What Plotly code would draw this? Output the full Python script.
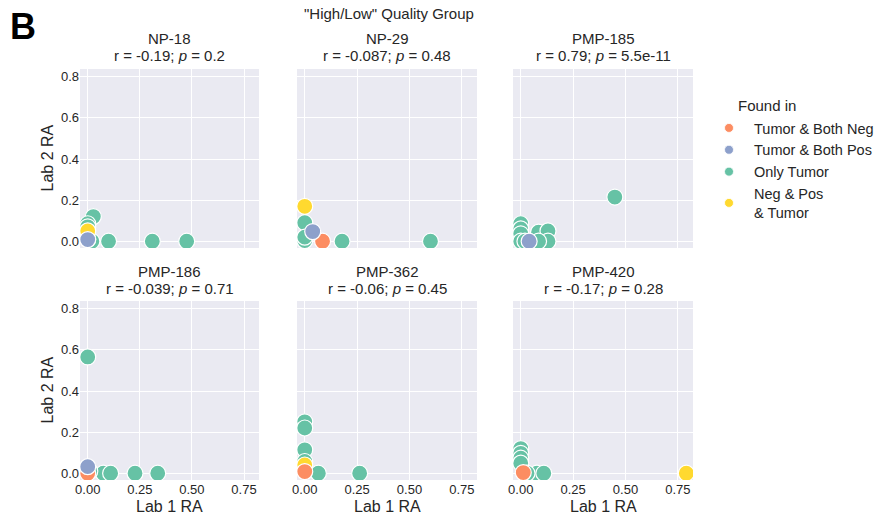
import plotly.graph_objects as go

# ---------------- data ----------------
panel_names = ["NP-18", "NP-29", "PMP-185", "PMP-186", "PMP-362", "PMP-420"]
panel_stats = [
    "r = -0.19; <i>p</i> = 0.2",
    "r = -0.087; <i>p</i> = 0.48",
    "r = 0.79; <i>p</i> = 5.5e-11",
    "r = -0.039; <i>p</i> = 0.71",
    "r = -0.06; <i>p</i> = 0.45",
    "r = -0.17; <i>p</i> = 0.28",
]

# Only Tumor (per panel)
only_tumor_x = [
    [0.027, 0.0, 0.0, 0.02, 0.0, 0.10, 0.31, 0.475],
    [0.0, 0.0, 0.0, 0.178, 0.60],
    [0.449, 0.0, 0.0, 0.0, 0.0, 0.02, 0.085, 0.13, 0.13, 0.085],
    [0.0, 0.075, 0.11, 0.227, 0.336, 0.01],
    [0.0, 0.0, 0.0, 0.0, 0.065, 0.262],
    [0.0, 0.0, 0.0, 0.0, 0.077, 0.11, 0.03],
]
only_tumor_y = [
    [0.12, 0.085, 0.07, 0.0, 0.01, 0.0, 0.0, 0.0],
    [0.09, 0.003, 0.02, 0.0, 0.0],
    [0.215, 0.085, 0.06, 0.036, 0.0, 0.0, 0.044, 0.05, 0.0, 0.0],
    [0.566, 0.0, 0.0, 0.0, 0.0, 0.01],
    [0.25, 0.22, 0.114, 0.057, 0.0, 0.0],
    [0.12, 0.097, 0.073, 0.049, 0.0, 0.0, 0.0],
]
# Neg & Pos & Tumor
neg_pos_x = [[0.0], [0.0], [], [], [0.0], [0.79]]
neg_pos_y = [[0.05], [0.17], [], [], [0.04], [0.0]]
# Tumor & Both Neg
both_neg_x = [[], [0.085], [], [0.0], [0.0], [0.012]]
both_neg_y = [[], [0.0], [], [0.0], [0.008], [0.003]]
# Tumor & Both Pos
both_pos_x = [[0.0], [0.038], [0.04], [0.0], [], []]
both_pos_y = [[0.008], [0.047], [0.0], [0.032], [], []]

legend_labels = ["Tumor & Both Neg", "Tumor & Both Pos", "Only Tumor", "Neg & Pos<br>& Tumor"]
legend_colors = ["#FC8D62", "#8DA0CB", "#66C2A5", "#FFD92F"]

x_ticks = [0, 0.25, 0.5, 0.75]
y_ticks = [0, 0.2, 0.4, 0.6, 0.8]

# ---------------- layout geometry ----------------
W, H = 880, 521
col_px = [(80, 259), (297, 477), (513, 693)]
row_px = [(69, 248), (301, 480)]
FONT = "Liberation Sans, Arial, sans-serif"
TXT = "#262626"

def px_x(p):
    return p / W

def px_y(p):
    return 1 - p / H

fig = go.Figure()
layout = {}
annotations = []

# draw order: green, yellow, orange, blue
groups = [
    (only_tumor_x, only_tumor_y, "#66C2A5"),
    (neg_pos_x, neg_pos_y, "#FFD92F"),
    (both_neg_x, both_neg_y, "#FC8D62"),
    (both_pos_x, both_pos_y, "#8DA0CB"),
]

for i, name in enumerate(panel_names):
    r, c = divmod(i, 3)
    n = i + 1
    xa = "xaxis" if n == 1 else f"xaxis{n}"
    ya = "yaxis" if n == 1 else f"yaxis{n}"
    xref = "x" if n == 1 else f"x{n}"
    yref = "y" if n == 1 else f"y{n}"
    x0, x1 = col_px[c]
    y0, y1 = row_px[r]
    layout[xa] = dict(
        domain=[px_x(x0), px_x(x1)], anchor=yref, range=[-0.037, 0.822],
        tickvals=x_ticks, tickformat=".2f", showticklabels=(r == 1),
        showgrid=True, gridcolor="white", gridwidth=1, zeroline=False,
        showline=False, ticks="", automargin=False,
        tickfont=dict(size=13, color=TXT, family=FONT),
    )
    layout[ya] = dict(
        domain=[px_y(y1), px_y(y0)], anchor=xref, range=[-0.033, 0.838],
        tickvals=y_ticks, tickformat=".1f", showticklabels=(c == 0),
        showgrid=True, gridcolor="white", gridwidth=1, zeroline=False,
        showline=False, ticks="", automargin=False,
        tickfont=dict(size=13, color=TXT, family=FONT),
    )
    for gx, gy, col in groups:
        if gx[i]:
            fig.add_trace(go.Scatter(
                x=gx[i], y=gy[i], mode="markers", xaxis=xref, yaxis=yref,
                showlegend=False, hoverinfo="x+y",
                marker=dict(size=16, color=col, line=dict(color="white", width=1.2)),
            ))
    cx = (x0 + x1) / 2
    annotations.append(dict(text=name, x=px_x(cx), y=px_y(y0 - 30), xref="paper", yref="paper",
                            showarrow=False, xanchor="center", yanchor="middle",
                            font=dict(size=15, color=TXT, family=FONT)))
    annotations.append(dict(text=panel_stats[i], x=px_x(cx), y=px_y(y0 - 13), xref="paper", yref="paper",
                            showarrow=False, xanchor="center", yanchor="middle",
                            font=dict(size=15, color=TXT, family=FONT)))

# legend entries
for lab, col in zip(legend_labels, legend_colors):
    fig.add_trace(go.Scatter(
        x=[None], y=[None], mode="markers", name=lab, showlegend=True,
        marker=dict(size=9, color=col, line=dict(color="white", width=0.8)),
    ))

# axis titles
for c in range(3):
    x0, x1 = col_px[c]
    annotations.append(dict(text="Lab 1 RA", x=px_x((x0 + x1) / 2), y=px_y(506), xref="paper", yref="paper",
                            showarrow=False, xanchor="center", yanchor="middle",
                            font=dict(size=16, color=TXT, family=FONT)))
for r in range(2):
    y0, y1 = row_px[r]
    annotations.append(dict(text="Lab 2 RA", x=px_x(47), y=px_y((y0 + y1) / 2), xref="paper", yref="paper",
                            showarrow=False, xanchor="center", yanchor="middle", textangle=-90,
                            font=dict(size=16, color=TXT, family=FONT)))

annotations.append(dict(text="\"High/Low\" Quality Group", x=px_x(389), y=px_y(13), xref="paper", yref="paper",
                        showarrow=False, xanchor="center", yanchor="middle",
                        font=dict(size=15, color=TXT, family=FONT)))
annotations.append(dict(text="<b>B</b>", x=px_x(8), y=px_y(27), xref="paper", yref="paper",
                        showarrow=False, xanchor="left", yanchor="middle",
                        font=dict(size=36, color="black", family=FONT)))
annotations.append(dict(text="Found in", x=px_x(767), y=px_y(106), xref="paper", yref="paper",
                        showarrow=False, xanchor="center", yanchor="middle",
                        font=dict(size=15, color=TXT, family=FONT)))

fig.update_layout(
    width=W, height=H, margin=dict(l=0, r=0, t=0, b=0, autoexpand=False),
    paper_bgcolor="white", plot_bgcolor="#EAEAF2",
    annotations=annotations,
    legend=dict(x=px_x(704), y=px_y(112), xanchor="left", yanchor="top",
                font=dict(size=14.5, color=TXT, family=FONT), bgcolor="rgba(0,0,0,0)",
                tracegroupgap=0, itemwidth=40),
    **layout,
)

fig.write_html("out.html", config={"displayModeBar": False},
               post_script="document.body.style.margin='0px';")
